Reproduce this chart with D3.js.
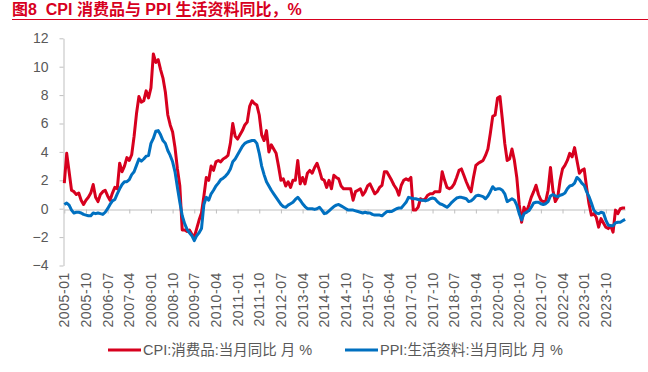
<!DOCTYPE html>
<html>
<head>
<meta charset="utf-8">
<script src="https://cdn.jsdelivr.net/npm/d3@7"></script>
<style>
  body { margin: 0; background: #fff; }
  text { font-family: "Liberation Sans", Arial, "Noto Sans CJK SC", sans-serif; }
</style>
</head>
<body>
<div id="chart"></div>
<script>
// monthly series start at 2005-01
const firstMonth = '2005-01';
const tickLabels = ['2005-01', '2005-10', '2006-07', '2007-04', '2008-01', '2008-10', '2009-07',
    '2010-04', '2011-01', '2011-10', '2012-07', '2013-04', '2014-01', '2014-10', '2015-07',
    '2016-04', '2017-01', '2017-10', '2018-07', '2019-04', '2020-01', '2020-10', '2021-07',
    '2022-04', '2023-01', '2023-10'];
const yTicks = [-4, -2, 0, 2, 4, 6, 8, 10, 12];
const seriesNames = ['CPI:消费品:当月同比 月 %', 'PPI:生活资料:当月同比 月 %'];

const cpi = [
    1.8, 3.9, 2.6, 1.3, 1.2, 1.0, 1.1, 0.6, 0.3, 0.6, 0.8, 1.1,
    1.7, 0.8, 0.5, 1.0, 1.2, 1.3, 0.9, 0.6, 1.1, 1.5, 1.4, 3.2,
    2.6, 3.0, 3.6, 3.4, 3.8, 5.1, 6.7, 7.9, 7.5, 7.6, 8.3, 7.8,
    8.5, 10.9, 10.3, 10.5, 9.8, 9.2, 8.2, 6.6, 5.9, 5.4, 4.3, 2.8,
    1.6, -1.5, -1.5, -1.6, -1.5, -1.8, -2.0, -1.4, -0.8, -0.3, 0.9, 2.2,
    2.0, 3.0, 2.7, 3.3, 3.4, 3.3, 3.5, 3.6, 3.75, 4.6, 6.0, 5.1,
    4.9, 5.2, 5.5, 5.9, 6.1, 7.2, 7.6, 7.4, 7.3, 6.6, 5.2, 4.8,
    5.5, 4.0, 4.5, 4.2, 3.9, 3.0, 2.0, 2.1, 1.6, 1.9, 1.5, 2.0,
    2.0, 3.4, 1.75, 2.2, 1.75, 2.5, 2.7, 2.5, 2.9, 3.2, 2.7, 2.1,
    2.0, 1.5, 2.0, 1.4, 2.35, 2.2, 2.1, 1.6, 1.4, 1.4, 1.4, 1.4,
    0.6, 1.2, 1.3, 1.4, 0.95, 1.2, 1.6, 1.75, 1.4, 1.05, 1.2, 1.5,
    1.65, 2.6, 2.6, 2.3, 2.0, 1.65, 1.4, 0.95, 1.65, 2.0, 2.1, 2.0,
    2.2, -0.1, -0.1, 0.1, 0.7, 0.6, 0.7, 0.95, 1.05, 1.05, 1.2, 1.2,
    1.2, 2.6, 2.0, 1.5, 1.4, 1.5, 1.75, 2.2, 2.7, 2.8, 2.35, 1.9,
    1.5, 1.2, 2.2, 3.05, 3.2, 3.3, 3.4, 3.75, 4.2, 5.3, 6.5, 6.6,
    7.8, 7.9, 6.3, 4.6, 3.4, 3.5, 4.2, 3.4, 2.2, 0.3, -0.95, 0.1,
    -0.25, 0.25, 0.8, 1.2, 1.65, 1.0, 0.6, 0.5, 0.5, 1.3, 2.9, 1.3,
    0.5, 0.8, 2.0, 2.8, 3.05, 3.4, 3.9, 3.65, 4.3, 3.4, 2.5, 2.7,
    2.8, 1.5, 0.35, -0.45, -0.35, -0.6, -1.3, -0.7, -1.0, -1.3, -1.4, -1.2,
    -1.65, -0.1, -0.35, 0.0, 0.05, 0.05
];

const ppi = [
    0.3, 0.4, 0.25, -0.1, -0.3, -0.25, -0.25, -0.3, -0.4, -0.45, -0.5, -0.5,
    -0.3, -0.35, -0.3, -0.35, -0.4, -0.25, 0.0, 0.3, 0.55, 0.65, 1.05, 1.4,
    1.7, 1.9, 1.9, 2.05, 2.4, 2.6, 3.05, 3.5, 3.35, 3.5, 3.7, 3.75,
    4.6, 4.95, 5.45, 5.5, 5.2, 4.8, 4.6, 4.1, 3.75, 3.3, 2.6, 1.5,
    0.45, -0.5, -1.05, -1.45, -1.7, -1.9, -2.25, -1.9, -1.7, -1.4, 0.3, 0.8,
    0.6, 1.05, 1.3, 1.6, 1.8, 2.05, 2.15, 2.3, 2.5, 2.8, 3.3, 3.5,
    3.8, 4.1, 4.4, 4.6, 4.7, 4.75, 4.8, 4.8, 4.6, 3.9, 3.0, 2.4,
    1.9, 1.6, 1.3, 1.05, 0.8, 0.55, 0.3, 0.15, 0.1, 0.25, 0.35, 0.45,
    0.65, 0.8, 0.6, 0.35, 0.15, 0.0, 0.0, 0.0, -0.05, 0.0, 0.1, -0.1,
    -0.35, -0.3, -0.15, 0.0, 0.15, 0.25, 0.3, 0.2, 0.1, 0.0, -0.1, -0.1,
    -0.1, -0.15, -0.2, -0.25, -0.3, -0.25, -0.3, -0.3, -0.4, -0.45, -0.45, -0.45,
    -0.5, -0.35, -0.2, -0.2, -0.2, -0.1, 0.0, 0.05, 0.05, 0.25, 0.45, 0.8,
    0.75, 0.7, 0.7, 0.65, 0.6, 0.6, 0.55, 0.6, 0.7, 0.75, 0.7, 0.5,
    0.35, 0.3, 0.2, 0.1, 0.25, 0.45, 0.6, 0.75, 0.8, 0.8, 0.75, 0.7,
    0.5, 0.55, 0.7, 0.9, 0.95, 0.9, 0.85, 0.7, 0.9, 1.2, 1.55, 1.35,
    1.4, 1.4, 1.3, 1.05, 0.5, 0.6, 0.7, 0.6, 0.25, -0.35, -0.8, -0.35,
    -0.25, -0.15, 0.1, 0.4, 0.45, 0.45, 0.35, 0.3, 0.35, 0.5, 0.9, 1.0,
    0.9, 0.85, 0.95, 1.0, 1.1, 1.4, 1.6, 1.65, 1.8, 2.2, 2.05, 1.8,
    1.65, 1.2, 0.85, 0.4, -0.1, -0.3, -0.35, -0.25, -0.3, -0.8, -1.15, -1.2,
    -1.2, -1.0, -0.95, -0.95, -0.85, -0.75
];

const red = '#d7001e';
const blue = '#0070c0';
const grey = '#595959';

const fmt = d3.timeFormat('%Y-%m');
const start = d3.timeParse('%Y-%m')(firstMonth);
const months = d3.timeMonth.range(start, d3.timeMonth.offset(start, cpi.length)).map(fmt);

const svg = d3.select('#chart')
    .append('svg')
    .attr('width', 648)
    .attr('height', 372);

// title
svg.append('text')
    .attr('x', 12)
    .attr('y', 15)
    .attr('fill', red)
    .style('font-size', '16px')
    .style('font-weight', 'bold')
    .style('white-space', 'pre')
    .text('图8  CPI 消费品与 PPI 生活资料同比，%');

svg.append('line')
    .attr('x1', 12).attr('x2', 648)
    .attr('y1', 19.5).attr('y2', 19.5)
    .attr('stroke', red)
    .attr('stroke-width', 1);

const x = d3.scalePoint()
    .domain(months)
    .range([64.3, 625.1]);

const y = d3.scaleLinear()
    .domain([-4, 12])
    .range([265.5, 38.3]);

// y axis
const yAxis = svg.append('g')
    .attr('transform', 'translate(63.5,0)')
    .call(d3.axisLeft(y).tickValues(yTicks).tickSize(4).tickSizeOuter(0).tickPadding(11));
yAxis.selectAll('path, line').attr('stroke', '#bfbfbf');
yAxis.selectAll('text')
    .attr('fill', grey)
    .style('font-size', '14px');

// zero line with ticks
const xAxis = svg.append('g')
    .attr('transform', 'translate(0,' + (Math.round(y(0)) + 0.5) + ')')
    .call(d3.axisBottom(x).tickValues(tickLabels).tickSize(4).tickSizeOuter(0).tickFormat(''));
xAxis.selectAll('path, line').attr('stroke', '#bfbfbf');

// rotated month labels under the plot
svg.append('g')
    .selectAll('text')
    .data(tickLabels)
    .enter().append('text')
    .attr('transform', d => 'translate(' + x(d) + ',272) rotate(-90)')
    .attr('text-anchor', 'end')
    .attr('dy', '0.36em')
    .attr('fill', grey)
    .style('font-size', '14px')
    .style('letter-spacing', '0.6px')
    .text(d => d);

const line = d3.line()
    .x((d, i) => x(months[i]))
    .y(d => y(d));

svg.append('path')
    .datum(cpi)
    .attr('fill', 'none')
    .attr('stroke', red)
    .attr('stroke-width', 3)
    .attr('stroke-linejoin', 'round')
    .attr('d', line);

svg.append('path')
    .datum(ppi)
    .attr('fill', 'none')
    .attr('stroke', blue)
    .attr('stroke-width', 3)
    .attr('stroke-linejoin', 'round')
    .attr('d', line);

// legend
const legend = [
    { name: seriesNames[0], color: red, x: 108 },
    { name: seriesNames[1], color: blue, x: 345 }
];
const lg = svg.append('g').selectAll('g')
    .data(legend)
    .enter().append('g')
    .attr('transform', d => 'translate(' + d.x + ',350)');
lg.append('line')
    .attr('x1', 0).attr('x2', 33)
    .attr('stroke', d => d.color)
    .attr('stroke-width', 3);
lg.append('text')
    .attr('x', 35)
    .attr('dy', '0.36em')
    .attr('fill', grey)
    .style('font-size', '14.5px')
    .text(d => d.name);
</script>
</body>
</html>
